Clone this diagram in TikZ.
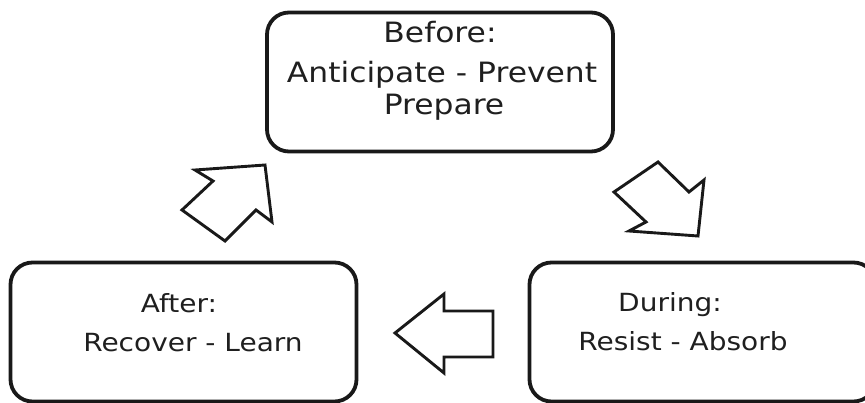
\documentclass[tikz,border=0pt]{standalone}
\usepackage{fontspec}
\setmainfont{DejaVu Sans}[FakeStretch=1.12]
\begin{document}
\begin{tikzpicture}[x=1pt,y=-1pt,
  stage/.style={draw=black!90, line width=3.8pt, rounded corners=22pt,
    minimum width=346pt, minimum height=139pt, inner sep=0pt},
  caption/.style={anchor=base, inner sep=0pt, text=black!88},
  big/.style={caption, font=\fontsize{28}{32}\selectfont},
  small/.style={caption, font=\fontsize{25}{30}\selectfont},
  flow/.style={draw=black!90, line width=2.9pt, line join=miter, fill=white}]
\useasboundingbox (0,0) rectangle (865,403);
\clip (0,0) rectangle (865,403);

% the three phase boxes
\node[stage] (before) at (440,82) {};
\node[stage] (after)  at (183.5,332) {};
\node[stage] (during) at (702.5,332) {};

% their texts
\node[big] (beforeA) at (440,43)  {Before:};
\node[big] (beforeB) at (442,83)  {Anticipate - Prevent};
\node[big] (beforeC) at (444,115) {Prepare};
\node[small] (afterA)  at (179,313) {After:};
\node[small] (afterB)  at (193,352) {Recover - Learn};
\node[small] (duringA) at (670,312) {During:};
\node[small] (duringB) at (683,351) {Resist - Absorb};

% block arrows of the cycle
\draw[flow] (658,162) -- (689,192) -- (704,180) -- (698,236)
  -- (629,231) -- (646,222) -- (614,192) -- cycle;
\draw[flow] (395,333) -- (444,294) -- (444,311) -- (493,311)
  -- (493,357) -- (444,357) -- (444,373) -- cycle;
\draw[flow] (265,165) -- (272,222) -- (256,210) -- (225,241)
  -- (182,210) -- (213,181) -- (195,170) -- cycle;
\end{tikzpicture}
\end{document}
